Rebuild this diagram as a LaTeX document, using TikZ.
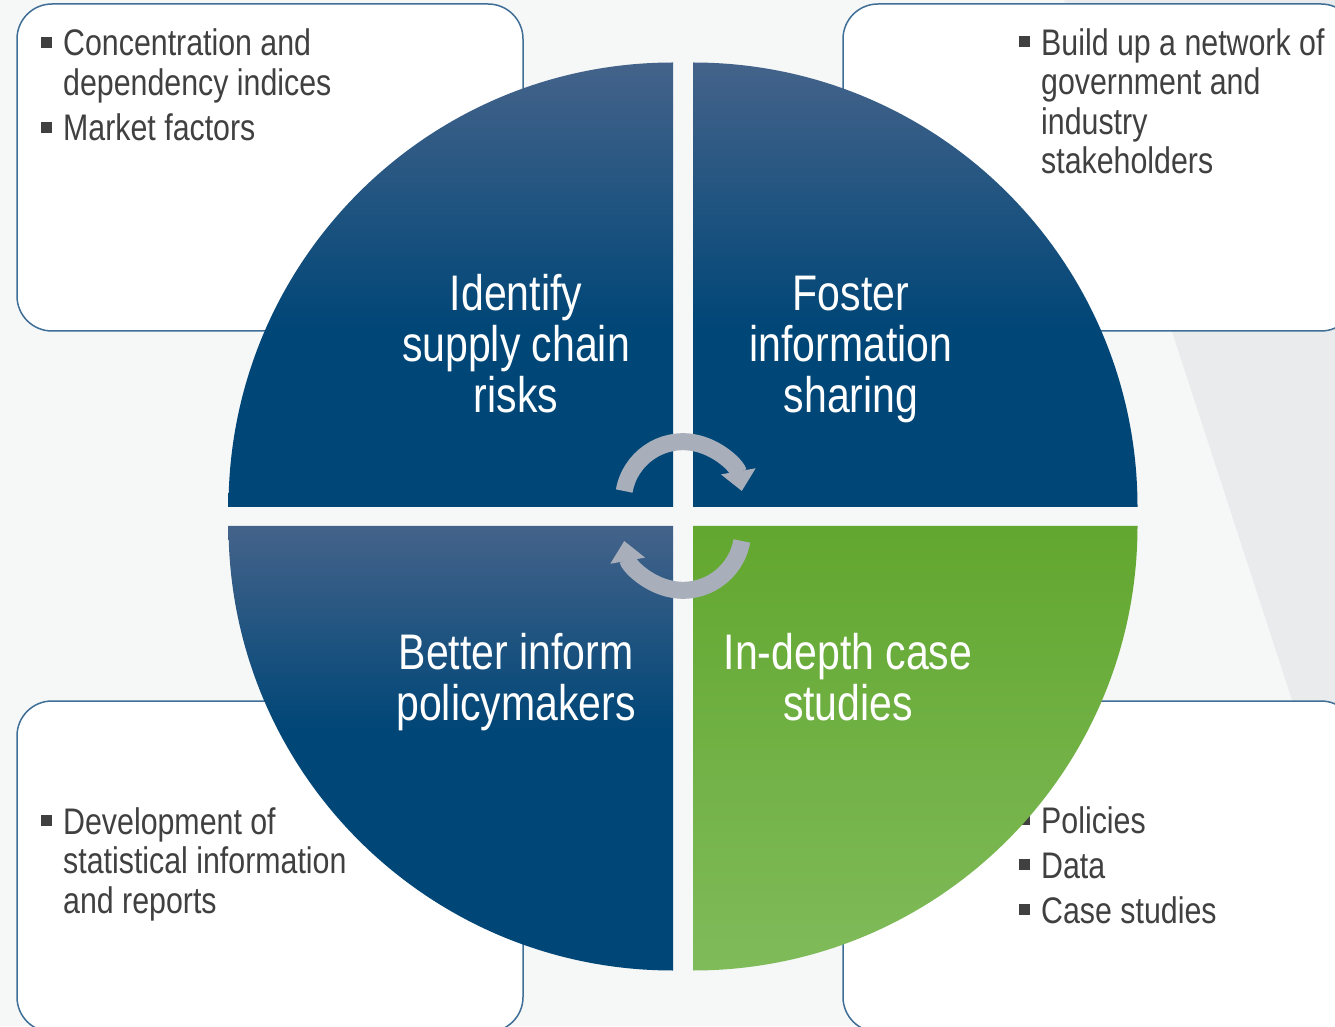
\documentclass[tikz,border=0pt]{standalone}
\usepackage{fontspec}
\setmainfont{Liberation Sans}[FakeStretch=0.82]
\usetikzlibrary{arrows.meta}

\definecolor{bggray}{HTML}{F6F7F7}
\definecolor{wedgegray}{HTML}{EAEBED}
\definecolor{boxline}{HTML}{3F6E96}
\definecolor{navy}{HTML}{004677}
\definecolor{navytop}{HTML}{44638A}
\definecolor{leaf}{HTML}{62A72F}
\definecolor{leafbot}{HTML}{80BB5A}
\definecolor{arrowgray}{HTML}{A9AEBB}
\definecolor{ink}{HTML}{404040}

\pgfdeclareverticalshading{navyfade}{100bp}{color(0bp)=(navy); color(45bp)=(navy); color(75bp)=(navytop); color(100bp)=(navytop)}
\pgfdeclareverticalshading{navyfadelow}{100bp}{color(0bp)=(navy); color(52bp)=(navy); color(75bp)=(navytop); color(100bp)=(navytop)}

\newcommand{\sqb}{\makebox[22pt][l]{\rule[8pt]{11pt}{11pt}}}
\newcommand{\ind}{\hspace*{22pt}}

\tikzset{
  infobox/.style={draw=boxline, line width=1.5pt, fill=white, rounded corners=35pt},
  infotext/.style={anchor=base west, align=left, inner sep=0pt, text=ink,
    font=\fontsize{37}{39.5}\selectfont},
  quadtext/.style={anchor=base, align=center, inner sep=0pt, text=white,
    font=\fontsize{50}{51}\selectfont},
  cyclearrow/.style={draw=arrowgray, line width=17pt, -{Triangle[width=34pt,length=20pt]}}
}

\begin{document}
\begin{tikzpicture}[x=1pt,y=1pt]
    \useasboundingbox (0,0) rectangle (1335,1026);
    \clip (0,0) rectangle (1335,1026);
    \fill[bggray] (0,0) rectangle (1335,1026);
    \fill[wedgegray] (1064,1026) -- (1335,1026) -- (1335,194) -- cycle;

    % corner boxes
    \draw[infobox] (17,695) rectangle (523,1022);
    \draw[infobox] (843,695) rectangle (1356,1022);
    \draw[infobox] (17,-6) rectangle (523,325);
    \draw[infobox] (843,-6) rectangle (1356,325);

    % texts are placed by the baseline of their last line
    \node (t1) [infotext] at (41,885)
        {\sqb Concentration and\\\ind dependency indices\\[6pt]\sqb Market factors};
    \node (t2) [infotext] at (1019,852.3)
        {\sqb Build up a network of\\\ind government and\\\ind industry\\\ind stakeholders};
    \node (t3) [infotext] at (41,113)
        {\sqb Development of\\\ind statistical information\\\ind and reports};
    \node (t4) [infotext] at (1019,102.7)
        {\sqb Policies\\[5.5pt]\sqb Data\\[5.5pt]\sqb Case studies};

    % quadrants
    \shade[shading=navyfade]
        (673,519) -- (228.5,519) arc[start angle=180, end angle=90, radius=444.5] -- cycle;
    \shade[shading=navyfade]
        (693,519) -- (693,963.5) arc[start angle=90, end angle=0, radius=444.5] -- cycle;
    \shade[shading=navyfadelow]
        (673,500) -- (673,55.5) arc[start angle=270, end angle=180, radius=444.5] -- cycle;
    \shade[top color=leaf, bottom color=leafbot]
        (693,500) -- (1137.5,500) arc[start angle=0, end angle=-90, radius=444.5] -- cycle;

    \node (q1) [quadtext] at (516,613) {Identify\\supply chain\\risks};
    \node (q2) [quadtext] at (851,613) {Foster\\information\\sharing};
    \node (q3) [quadtext] at (516,305.5) {Better inform\\policymakers};
    \node (q4) [quadtext] at (848,305.5) {In-depth case\\studies};

    % cycle arrows
    \draw[cyclearrow] (683,524.6) ++(170:59.7) arc[start angle=170, end angle=10, radius=59.7];
    \draw[cyclearrow] (683,495.4) ++(-10:59.7) arc[start angle=-10, end angle=-170, radius=59.7];
\end{tikzpicture}
\end{document}
